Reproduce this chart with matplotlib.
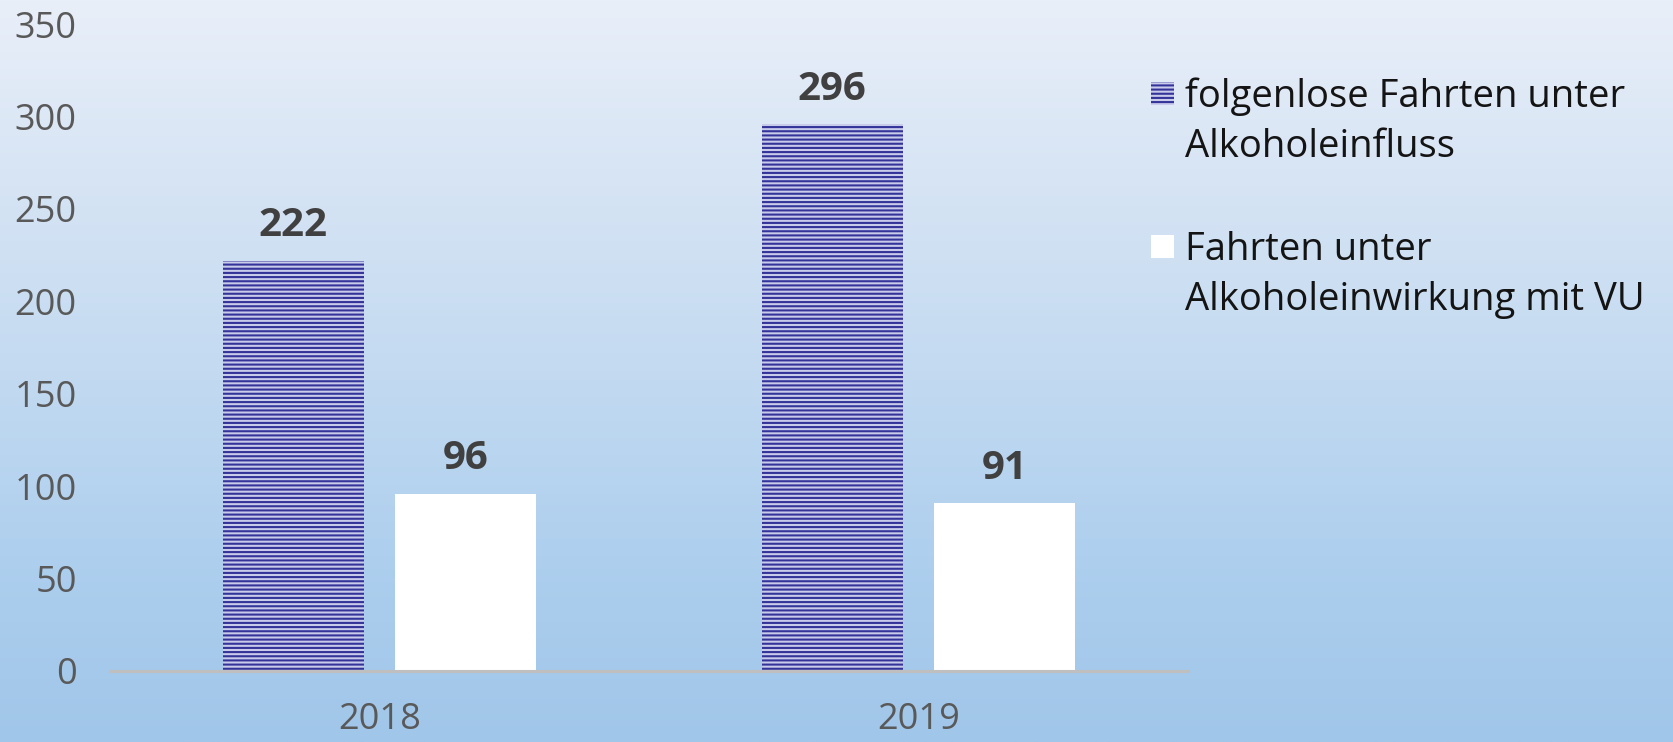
import numpy as np
import matplotlib
matplotlib.use("Agg")
import matplotlib.pyplot as plt
from matplotlib.colors import LinearSegmentedColormap
from matplotlib.patches import Rectangle

years = ["2018", "2019"]
series_names = ["folgenlose Fahrten unter\nAlkoholeinfluss",
                "Fahrten unter\nAlkoholeinwirkung mit VU"]
folgenlos = [222, 296]
mit_vu = [96, 91]
yticks = [0, 50, 100, 150, 200, 250, 300, 350]

plt.rcParams['font.family'] = ['Open Sans', 'DejaVu Sans']
plt.rcParams['hatch.linewidth'] = 1.5

W, H = 1674, 742
fig = plt.figure(figsize=(W / 100, H / 100), dpi=100)

# background gradient
bg = fig.add_axes([0, 0, 1, 1], zorder=-10)
cmap = LinearSegmentedColormap.from_list(
    "bg", ["#e9eff9", "#d6e4f4", "#c3daf1", "#aecfee", "#a0c6e9"])
grad = np.linspace(0, 1, 256).reshape(-1, 1)
bg.imshow(grad, aspect='auto', cmap=cmap, extent=[0, 1, 0, 1], origin='upper')
bg.set_axis_off()

ax = fig.add_axes([110 / W, 1 - 671 / H, (1188 - 110) / W, (671 - 24) / H])
ax.set_facecolor('none')

style1 = dict(facecolor='#c9cbeb', edgecolor='#333399', linewidth=0, hatch='----')
style2 = dict(facecolor='white', edgecolor='white', linewidth=0)

x = np.arange(len(years))
w = 0.262
off = 0.16
b1 = ax.bar(x - off, folgenlos, w, zorder=3, **style1)
b2 = ax.bar(x + off, mit_vu, w, zorder=3, **style2)

for bars, vals in ((b1, folgenlos), (b2, mit_vu)):
    for rect, v in zip(bars, vals):
        ax.annotate(str(v), (rect.get_x() + rect.get_width() / 2, v),
                    xytext=(0, 25), textcoords='offset points',
                    ha='center', va='center', fontsize=29, fontweight='bold',
                    color='#404040')

ax.set_xlim(-0.5, 1.5)
ax.set_ylim(0, 350)
ax.set_yticks(yticks)
ax.set_xticks(x)
ax.set_xticklabels(years)
ax.tick_params(axis='y', length=0, pad=24, labelsize=26, labelcolor='#595959')
ax.tick_params(axis='x', length=0, pad=22, labelsize=26, labelcolor='#595959')
for s in ['top', 'right', 'left']:
    ax.spines[s].set_visible(False)
ax.spines['bottom'].set_color('#bfbfbf')
ax.spines['bottom'].set_linewidth(2.2)
ax.spines['bottom'].set_zorder(4)

# legend (manual layout, first line aligned with the swatch)
entries = [(series_names[0], style1, 82), (series_names[1], style2, 235)]
for label, st, top in entries:
    fig.patches.append(Rectangle((1151 / W, 1 - (top + 23) / H), 23 / W, 23 / H,
                                 transform=fig.transFigure, figure=fig, **st))
    for i, line in enumerate(label.split("\n")):
        fig.text(1185 / W, 1 - (top + 25 + 50 * i) / H, line,
                 ha='left', va='baseline', fontsize=27.5, color='#141414')

fig.savefig("out.png", dpi=100)
